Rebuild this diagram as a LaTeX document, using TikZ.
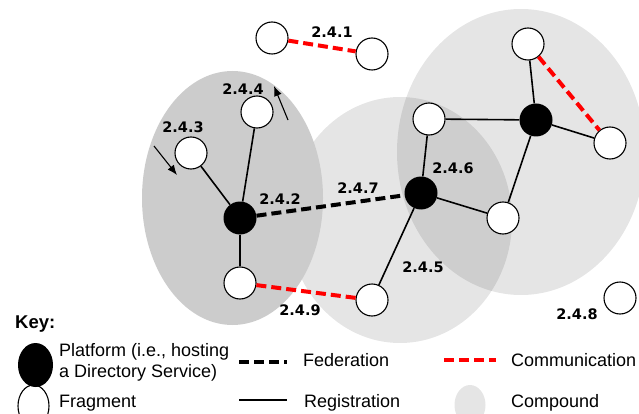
\documentclass[tikz,border=0pt]{standalone}
\usepackage{fontspec}
\setmainfont{Liberation Sans}
\newfontfamily\tagfont{DejaVu Sans}
\usetikzlibrary{arrows.meta,shapes.geometric}

\begin{document}
\begin{tikzpicture}[x=1pt,y=-1pt,
    platform/.style={circle,fill=black,minimum size=33pt,inner sep=0pt},
    fragment/.style={circle,draw=black,line width=1.1pt,fill=white,minimum size=32pt,inner sep=0pt},
    tag/.style={font=\tagfont\bfseries\fontsize{14.5}{16}\selectfont,inner sep=0pt},
    registration/.style={line width=1.6pt},
    federation/.style={line width=4pt,dash pattern=on 10pt off 5pt},
    communication/.style={federation,red},
    compound/.style={fill=black,fill opacity=0.1},
    keytext/.style={font=\fontsize{18}{21}\selectfont,inner sep=0pt,anchor=base west,align=left}]
  \useasboundingbox (0,0) rectangle (639,414);
  % compounds
  \fill[compound] (400,220) ellipse [x radius=112,y radius=123];
  \fill[compound] (521,152) ellipse [x radius=124,y radius=143];
  \fill[black!20] (232.5,198) ellipse [x radius=90.5,y radius=127];

  \path
    (272,38) node[fragment] (fA){}
    (372,54) node[fragment] (fB){}
    (257,112) node[fragment] (f4){}
    (191,153) node[fragment] (f3){}
    (240,218) node[platform] (p2){}
    (240,283) node[fragment] (f9){}
    (372,300) node[fragment] (f5){}
    (421,193) node[platform] (p6){}
    (429,119) node[fragment] (fT){}
    (503,218) node[fragment] (fR){}
    (536,120) node[platform] (pR){}
    (528,44) node[fragment] (fU){}
    (610,143) node[fragment] (fE){}
    (620,298) node[fragment] (f8){};

  \begin{scope}[registration]
    \draw (p2) to (f4);
    \draw (p2) to (f3);
    \draw (p2) to (f9);
    \draw (p6) to (fT);
    \draw (p6) to (fR);
    \draw (p6) to (f5);
    \draw (fT) to (pR);
    \draw (pR) to (fU);
    \draw (pR) to (fE);
    \draw (pR) to (fR);
  \end{scope}
  \draw[federation] (p2) to (p6);
  \begin{scope}[communication]
    \draw (fA) to (fB);
    \draw (f9) to (f5);
    \draw (fU) to (fE);
  \end{scope}

  % small arrows at 2.4.3 and 2.4.4
  \coordinate (a3) at (154,146);
  \coordinate (a3tip) at (177,175);
  \coordinate (a4) at (288,120);
  \coordinate (a4tip) at (274,86);
  \draw[line width=1.1pt,-{Latex[length=10pt,width=8pt]}] (a3) -- (a3tip);
  \draw[line width=1.1pt,-{Latex[length=10pt,width=8pt]}] (a4) -- (a4tip);

  \node[tag] (l241) at (332,32) {2.4.1};
  \node[tag] (l244) at (243,89) {2.4.4};
  \node[tag] (l243) at (183,127) {2.4.3};
  \node[tag] (l242) at (280,199) {2.4.2};
  \node[tag] (l247) at (358,188) {2.4.7};
  \node[tag] (l246) at (453,168) {2.4.6};
  \node[tag] (l245) at (423,267) {2.4.5};
  \node[tag] (l249) at (300,310) {2.4.9};
  \node[tag] (l248) at (577,314) {2.4.8};

  % key
  \node[keytext,font=\bfseries\fontsize{18.5}{21}\selectfont] (keyhead) at (15,328) {Key:};
  \node[ellipse,fill=black,minimum width=35pt,minimum height=44pt,inner sep=0pt] (kp) at (35.5,365) {};
  \node[ellipse,draw=black,line width=1.1pt,minimum width=31pt,minimum height=42pt,inner sep=0pt] (kf) at (33.5,406) {};
  \node[keytext] (tp) at (59,377) {Platform (i.e., hosting\\a Directory Service)};
  \node[keytext] (tf) at (59,407) {Fragment};
  \coordinate (kfa) at (239,362);
  \coordinate (kfb) at (287,362);
  \draw[federation] (kfa) -- (kfb);
  \node[keytext] (tfed) at (303,366) {Federation};
  \coordinate (kra) at (239,400);
  \coordinate (krb) at (287,400);
  \draw[registration] (kra) -- (krb);
  \node[keytext] (treg) at (304,407) {Registration};
  \coordinate (kca) at (444,360);
  \coordinate (kcb) at (496,360);
  \draw[communication] (kca) -- (kcb);
  \node[keytext] (tcom) at (511,366) {Communication};
  \fill[compound] (470,405) ellipse [x radius=15.5,y radius=20];
  \node[keytext] (tcmp) at (511,407) {Compound};
\end{tikzpicture}
\end{document}
